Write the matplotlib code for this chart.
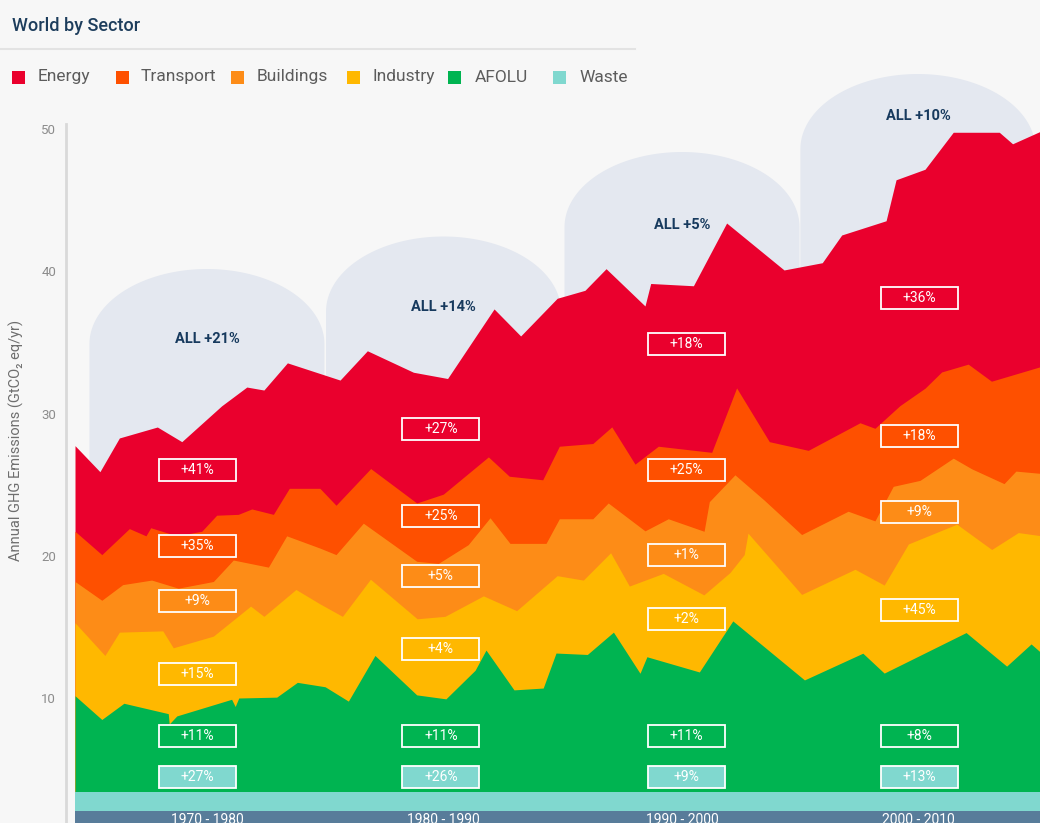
import matplotlib
matplotlib.use("Agg")
import matplotlib.pyplot as plt
from matplotlib.patches import Rectangle, Polygon
from matplotlib.lines import Line2D
import numpy as np

plt.rcParams["font.family"] = ["Roboto", "DejaVu Sans"]

sectors = ["Energy", "Transport", "Buildings", "Industry", "AFOLU", "Waste"]
colors = ["#ea002d", "#fe5000", "#fd8c17", "#ffb800", "#00b451", "#80d8cf"]

# Upper edge of each stacked sector (GtCO2eq/yr).
energy_yr = [1970.0, 1971.05, 1971.87, 1973.47, 1974.5, 1976.18, 1977.24, 1977.96, 1978.95,
             1981.17, 1982.32, 1984.26, 1985.7, 1987.66, 1988.78, 1990.32, 1991.49, 1992.38,
             1994.02, 1994.26, 1996.06, 1997.46, 1999.88, 2001.49, 2002.31, 2004.18, 2004.6,
             2005.82, 2007.01, 2008.95, 2009.51, 2010.7]
energy_top = [27.74, 25.91, 28.28, 29.05, 28.02, 30.54, 31.86, 31.65, 33.56,
              32.35, 34.41, 32.9, 32.46, 37.35, 35.45, 38.1, 38.66, 40.18,
              37.56, 39.14, 38.98, 43.39, 40.09, 40.6, 42.55, 43.55, 46.43,
              47.17, 49.77, 49.77, 48.96, 49.85]

transport_yr = [1970.0, 1971.13, 1972.29, 1972.99, 1973.19, 1974.29, 1975.34, 1975.97, 1976.88,
                1977.45, 1978.36, 1979.03, 1980.32, 1981.0, 1982.46, 1984.4, 1985.52, 1987.42,
                1988.3, 1989.71, 1990.41, 1991.82, 1992.62, 1993.6, 1994.58, 1996.83, 1997.88,
                1999.26, 2000.9, 2003.08, 2003.71, 2004.76, 2005.82, 2006.52, 2007.64, 2008.62,
                2010.7]
transport_top = [21.72, 20.08, 21.91, 21.4, 21.97, 21.4, 21.72, 22.85, 22.91,
                 23.29, 22.91, 24.74, 24.74, 23.55, 26.13, 23.71, 24.33, 26.95,
                 25.59, 25.34, 27.7, 27.89, 29.06, 26.44, 27.7, 27.27, 31.8,
                 28.02, 27.41, 29.35, 28.96, 30.55, 31.78, 32.92, 33.47, 32.27,
                 33.3]

buildings_yr = [1970.0, 1971.13, 1972.01, 1973.23, 1974.35, 1975.83, 1976.67, 1978.15, 1978.92,
                1980.32, 1981.0, 1982.15, 1984.4, 1985.31, 1986.57, 1987.49, 1988.33, 1989.85,
                1990.41, 1991.82, 1992.47, 1994.02, 1995.0, 1996.51, 1996.73, 1997.81, 1999.03,
                2000.62, 2002.58, 2003.71, 2004.48, 2005.61, 2007.01, 2007.79, 2009.15, 2009.65,
                2010.7]
buildings_top = [18.19, 16.87, 17.97, 18.29, 17.72, 18.19, 19.7, 19.2, 21.4,
                 20.54, 20.08, 22.29, 19.61, 19.46, 20.78, 22.67, 20.87, 20.87,
                 22.6, 22.6, 23.71, 21.75, 22.6, 21.72, 23.8, 25.69, 23.93,
                 21.49, 23.13, 22.45, 24.88, 25.3, 26.86, 26.11, 25.07, 25.95,
                 25.79]

industry_yr = [1970.0, 1971.26, 1971.87, 1973.7, 1974.14, 1975.83, 1977.4, 1977.96, 1979.31,
               1980.32, 1981.27, 1982.45, 1984.42, 1985.59, 1987.21, 1988.61, 1990.32, 1991.42,
               1992.57, 1993.36, 1994.79, 1996.5, 1997.6, 1998.2, 1998.36, 2000.62, 2002.87,
               2004.1, 2005.12, 2007.16, 2008.63, 2009.75, 2010.7]
industry_top = [15.29, 12.99, 14.63, 14.72, 13.53, 14.35, 16.46, 15.74, 17.63,
                16.62, 15.74, 18.35, 15.57, 15.74, 17.18, 16.14, 18.6, 18.29,
                20.21, 17.87, 18.76, 17.25, 18.82, 20.08, 21.59, 17.28, 19.05,
                17.94, 20.83, 22.22, 20.44, 21.63, 21.41]

afolu_yr = [1970.0, 1971.13, 1972.06, 1973.93, 1973.97, 1974.29, 1976.6, 1976.75, 1976.9,
            1978.5, 1979.37, 1980.54, 1981.52, 1982.64, 1984.4, 1985.63, 1986.86, 1987.32,
            1988.5, 1989.73, 1990.27, 1991.59, 1992.69, 1993.81, 1994.1, 1996.31, 1997.72,
            2000.74, 2003.2, 2004.1, 2007.55, 2009.26, 2010.29, 2010.7]
afolu_top = [10.16, 8.49, 9.63, 8.9, 8.17, 8.74, 9.91, 9.4, 10.0,
             10.06, 11.1, 10.79, 9.78, 12.99, 10.22, 9.94, 11.95, 13.37,
             10.57, 10.7, 13.16, 13.06, 14.63, 11.74, 12.9, 11.83, 15.42,
             11.27, 13.15, 11.75, 14.6, 12.24, 13.8, 13.2]

waste_yr = [1970.0, 1980.0, 1990.0, 2000.0, 2010.7]
waste_top = [3.4, 3.4, 3.4, 3.4, 3.4]

decades = ["1970 - 1980", "1980 - 1990", "1990 - 2000", "2000 - 2010"]
all_chg = ["ALL +21%", "ALL +14%", "ALL +5%", "ALL +10%"]
energy_chg = ["+41%", "+27%", "+18%", "+36%"]
transport_chg = ["+35%", "+25%", "+25%", "+18%"]
buildings_chg = ["+9%", "+5%", "+1%", "+9%"]
industry_chg = ["+15%", "+4%", "+2%", "+45%"]
afolu_chg = ["+11%", "+11%", "+11%", "+8%"]
waste_chg = ["+27%", "+26%", "+9%", "+13%"]

# ---- layout (pixel geometry of the 1040x823 canvas) ----
W, H = 1040, 823
def fx(x): return x / W
def fy(y): return 1 - y / H

X0, PXY = 75.0, 23.73        # 1970 at x=75, px per year
Y0, PXU = 840.25, 14.225     # value 0 at y=840.25, px per Gt
def yv(ypx): return (Y0 - ypx) / PXU

fig = plt.figure(figsize=(W / 100, H / 100), dpi=100, facecolor="#f7f7f7")
ax = fig.add_axes([fx(66), 0, fx(1040) - fx(66), fy(60)])
ax.set_facecolor("none")
ax.set_xlim(1970 - 9 / PXY, 1970 + (1040 - X0) / PXY)
ax.set_ylim(yv(823), yv(60))

mids = [1975.56, 1985.53, 1995.58, 2005.52]
shape_top = [yv(269), yv(236.5), yv(152), yv(74)]
hw, eh = 117.5 / PXY, 75 / PXU
t = np.linspace(np.pi, 0, 80)
for m, top in zip(mids, shape_top):
    xs = np.r_[m - hw, m + hw * np.cos(t), m + hw]
    ys = np.r_[yv(823), top - eh + eh * np.sin(t), yv(823)]
    ax.add_patch(Polygon(np.c_[xs, ys], closed=True, fc="#e4e8f0", ec="none", zorder=1))

all_y = [yv(339), yv(307), yv(225), yv(116)]
for m, s, y in zip(mids, all_chg, all_y):
    ax.text(m, y, s, ha="center", va="center", fontsize=10.5, fontweight="bold",
            color="#173a5e", zorder=2)

layers = [(energy_yr, energy_top), (transport_yr, transport_top), (buildings_yr, buildings_top),
          (industry_yr, industry_top), (afolu_yr, afolu_top), (waste_yr, waste_top)]
for (xs, ys), c in zip(layers, colors):
    ax.fill_between(xs, 0, ys, color=c, lw=0, zorder=3)

# decade strip at the bottom
ax.fill_between([1970, 2010.7], 0, yv(811), color="#587c9a", lw=0, zorder=4)
for m, d in zip(mids, decades):
    ax.text(m, yv(820), d, ha="center", va="center", fontsize=10, color="white",
            zorder=5, clip_on=False)

# per-sector change boxes
box_x = [1975.16, 1985.42, 1995.75, 2005.6]
box_y = [
    [yv(470), yv(429), yv(344), yv(298)],
    [yv(546), yv(516), yv(470), yv(436)],
    [yv(601), yv(576), yv(555), yv(512)],
    [yv(674), yv(649), yv(619), yv(610)],
    [yv(736), yv(736), yv(736), yv(736)],
    [yv(777), yv(777), yv(777), yv(777)],
]
chg = [energy_chg, transport_chg, buildings_chg, industry_chg, afolu_chg, waste_chg]
bw, bh = 77 / PXY, 22 / PXU
for i, c in enumerate(colors):
    for j in range(4):
        cx, cy = box_x[j], box_y[i][j]
        ax.add_patch(Rectangle((cx - bw / 2, cy - bh / 2), bw, bh, fc=c, ec="white",
                               lw=1.3, zorder=6))
        ax.text(cx, cy, chg[i][j], ha="center", va="center", fontsize=10,
                color="white", zorder=7)

# axis styling
for s in ["top", "right", "bottom"]:
    ax.spines[s].set_visible(False)
ax.spines["left"].set_color("#d9d9d9")
ax.spines["left"].set_linewidth(2)
ax.spines["left"].set_bounds(yv(823), yv(124))
ax.set_xticks([])
ax.set_yticks([10, 20, 30, 40, 50])
ax.tick_params(axis="y", length=0, pad=7, labelsize=9.5, labelcolor="#8c8c8c")
ax.set_ylabel("Annual GHG Emissions (GtCO\u2082 eq/yr)", fontsize=10.5, color="#6e6e6e")
ax.yaxis.set_label_coords((24 - 66) / 974, (823 - 440) / 763)

# header
fig.text(fx(12), fy(26), "World by Sector", fontsize=13, fontweight="medium",
         color="#1d3d5c", va="center", ha="left")
fig.add_artist(Line2D([0, fx(635)], [fy(49), fy(49)], color="#e3e3e3", lw=1.5))
sq_x = [12, 116, 231, 347, 448, 553]
tx_x = [38, 141, 257, 372, 475, 579]
for sx, tx, c, name in zip(sq_x, tx_x, colors, sectors):
    fig.add_artist(Rectangle((fx(sx), fy(84)), fx(13), 13 / H, fc=c, ec="none",
                             transform=fig.transFigure))
    fig.text(fx(tx), fy(77), name, fontsize=12.5, color="#5c5c5c", va="center", ha="left")

fig.savefig("out.png", dpi=100, facecolor=fig.get_facecolor())
